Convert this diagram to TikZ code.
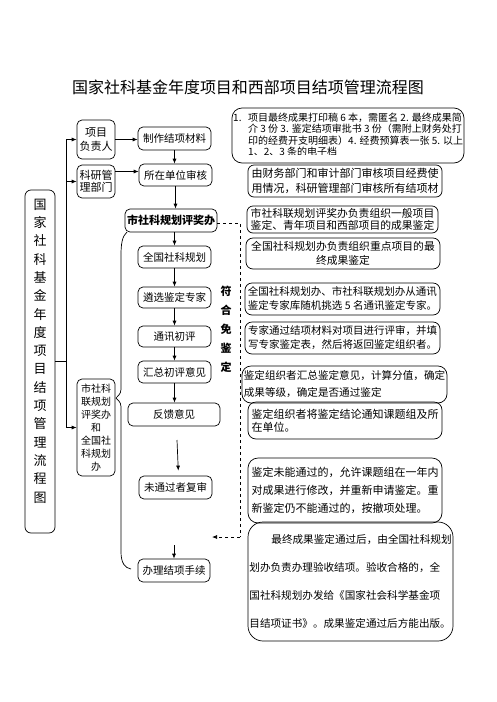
\documentclass[tikz,border=0pt]{standalone}
\usepackage{fontspec}
\setmainfont{Noto Sans CJK SC}
\usetikzlibrary{arrows.meta}
\newcommand\myfs[2]{\fontsize{#1}{#2}\selectfont}
\begin{document}
\begin{tikzpicture}[x=1pt,y=-1pt,
  box/.style={draw, line width=0.7pt, rounded corners=5pt, inner sep=0pt, align=center, font=\myfs{10.5}{13}},
  note/.style={draw, line width=0.7pt, rounded corners=7pt, inner sep=0pt, align=left},
  arr/.style={-{Latex[length=5pt,width=4pt]}, line width=0.7pt},
  ln/.style={line width=0.7pt}]
\useasboundingbox (0,0) rectangle (496,702);
% title
\node[font=\myfs{16}{18}] (title) at (248,87) {国家社科基金年度项目和西部项目结项管理流程图};
% left big box
\node[draw, line width=0.7pt, rounded corners=6pt, minimum width=30pt, minimum height=343pt, inner sep=0pt] (big) at (40,361.5) {};
\node[font=\myfs{13}{18.3}, align=center, inner sep=0pt] (bigt) at (40,351) {国\\家\\社\\科\\基\\金\\年\\度\\项\\目\\结\\项\\管\\理\\流\\程\\图};
% small left boxes
\node[box, font=\myfs{11}{14}, minimum width=38pt, minimum height=39pt] (xmfz) at (96,139.5) {项目\\负责人};
\node[box, font=\myfs{11}{12.5}, minimum width=38pt, minimum height=33pt] (kygl) at (96,181.5) {科研管\\理部门};
\node[box, font=\myfs{10}{13}, minimum width=38pt, minimum height=97pt] (sskl) at (96,427.5) {市社科\\联规划\\评奖办\\和\\全国社\\科规划\\办};
% chain
\node[box, minimum width=73pt, minimum height=23pt] (zzjx) at (174.5,138.5) {制作结项材料};
\node[box, minimum width=73pt, minimum height=22pt] (szdw) at (175.5,175) {所在单位审核};
\node[box, font=\myfs{11}{13}\bfseries, minimum width=92pt, minimum height=23pt] (skgh) at (171,220.5) {市社科规划评奖办};
\node[box, minimum width=73pt, minimum height=22pt] (qggh) at (174.5,257) {全国社科规划};
\node[box, minimum width=73pt, minimum height=21pt] (lxjd) at (174.5,297.5) {遴选鉴定专家};
\node[box, minimum width=73pt, minimum height=21pt] (txcp) at (174.5,336.5) {通讯初评};
\node[box, minimum width=73pt, minimum height=22pt] (hzcp) at (174.5,372) {汇总初评意见};
\node[box, minimum width=92pt, minimum height=23pt] (fkyj) at (174,414.5) {反馈意见};
\node[box, minimum width=73pt, minimum height=23pt] (wtg) at (175.5,487.5) {未通过者复审};
\node[box, minimum width=72pt, minimum height=23pt] (blj) at (174,570.5) {办理结项手续};
% vertical label
\node[font=\myfs{11}{19}\bfseries, align=center, inner sep=0pt] (fhmj) at (226,329.5) {符\\合\\免\\鉴\\定};
% notes
\node[note, rounded corners=10pt, minimum width=232pt, minimum height=55pt] (n1) at (348,135.5) {};
\begin{scope}
\clip (232,110) rectangle (464,154.5);
\node[anchor=north west, inner sep=0pt, align=left, font=\myfs{10}{11.3}] (n1t) at (233,113) {\makebox[15pt][l]{1.}项目最终成果打印稿 6 本，需匿名 2. 最终成果简\\ \hspace*{15pt}介 3 份 3. 鉴定结项审批书 3 份（需附上财务处打\\ \hspace*{15pt}印的经费开支明细表）4. 经费预算表一张 5. 以上\\ \hspace*{15pt}1、2、3 条的电子档};
\end{scope}
\node[note, rounded corners=6pt, font=\myfs{11}{15}, minimum width=194pt, minimum height=32pt] (n2) at (345,181) {由财务部门和审计部门审核项目经费使\\用情况，科研管理部门审核所有结项材};
\node[note, rounded corners=6pt, font=\myfs{10.8}{12}, minimum width=191pt, minimum height=27pt] (n3) at (342.5,219.5) {市社科联规划评奖办负责组织一般项目\\鉴定、青年项目和西部项目的成果鉴定};
\node[note, rounded corners=7pt, font=\myfs{10.8}{14}, align=center, minimum width=194pt, minimum height=31pt] (n4) at (343,253.5) {全国社科规划办负责组织重点项目的最\\终成果鉴定};
\node[note, rounded corners=7pt, font=\myfs{10.5}{14}, minimum width=195pt, minimum height=32pt] (n5) at (342.5,299) {全国社科规划办、市社科联规划办从通讯\\鉴定专家库随机挑选 5 名通讯鉴定专家。};
\node[note, rounded corners=7pt, font=\myfs{10.5}{14}, minimum width=195pt, minimum height=32pt] (n6) at (342.5,338) {专家通过结项材料对项目进行评审，并填\\写专家鉴定表，然后将返回鉴定组织者。};
\node[note, rounded corners=9pt, font=\myfs{10.6}{17}, minimum width=205pt, minimum height=37pt] (n7) at (344.5,384.5) {鉴定组织者汇总鉴定意见，计算分值，确定\\成果等级，确定是否通过鉴定};
\node[note, rounded corners=8pt, font=\myfs{11}{13}, minimum width=194pt, minimum height=37pt] (n8) at (345,420.5) {鉴定组织者将鉴定结论通知课题组及所\\在单位。};
\node[note, rounded corners=10pt, font=\myfs{11}{18}, minimum width=194pt, minimum height=65pt] (n9) at (345,490.5) {鉴定未能通过的，允许课题组在一年内\\对成果进行修改，并重新申请鉴定。重\\新鉴定仍不能通过的，按撤项处理。};
\node[note, rounded corners=15pt, font=\myfs{10.6}{28}, minimum width=205pt, minimum height=119pt] (n10) at (350.5,581.5) {\hspace*{22pt}最终成果鉴定通过后，由全国社科规划\\划办负责办理验收结项。验收合格的，全\\国社科规划办发给《国家社会科学基金项\\目结项证书》。成果鉴定通过后方能出版。};
% bus on the left
\coordinate (bj) at (66,361.5);
\coordinate (btop) at (66,139.5);
\coordinate (bmid) at (66,181.5);
\coordinate (bbot) at (66,427.5);
\draw[ln] (big.east) -- (bj);
\draw[ln] (btop) -- (bbot);
\draw[arr] (btop) -- (xmfz.west);
\draw[arr] (bmid) -- (kygl.west);
\draw[arr] (bbot) -- (sskl.west);
% horizontal arrows
\draw[arr] (xmfz.east) -- (xmfz.east -| zzjx.west);
\path ([yshift=10pt]kygl.east) coordinate (k1);
\draw[arr] (k1) -- (k1 -| szdw.west);
% vertical chain arrows
\draw[arr] (zzjx.south) -- (zzjx.south |- szdw.north);
\draw[arr] (szdw.south) -- (szdw.south |- skgh.north);
\draw[arr] (skgh.south -| qggh.north) -- (qggh.north);
\draw[arr] (qggh.south) -- (lxjd.north);
\draw[arr] (lxjd.south) -- (txcp.north);
\draw[arr] (txcp.south) -- (hzcp.north);
\draw[arr] (hzcp.south) -- (hzcp.south |- fkyj.north);
\coordinate (s1) at (177,440);
\draw[arr, shorten >=5pt] (s1) -- ([xshift=3pt]wtg.north);
\coordinate (s2) at (174,545);
\draw[arr] (s2) -- (blj.north);
% dashed
\coordinate (d1) at (240,223);
\coordinate (d2) at (240,537);
\coordinate (d3) at (212,537);
\draw[ln, dashed] (skgh.east |- d1) -- (d1) -- (d2);
\draw[arr, dashed] (d2) -- (d3);
% brace
\coordinate (b0) at (127,232);
\coordinate (b1) at (121,255);
\coordinate (b2) at (121,385);
\coordinate (bt) at (116,398);
\coordinate (b3) at (121,411);
\coordinate (b4) at (121,552);
\coordinate (b5) at (131,569);
\draw[ln] (b0) .. controls (122,236) and (121,245) .. (b1) -- (b2) .. controls (121,393) .. (bt) .. controls (121,403) .. (b3) -- (b4) .. controls (121,563) and (125,568) .. (b5);
\end{tikzpicture}
\end{document}
